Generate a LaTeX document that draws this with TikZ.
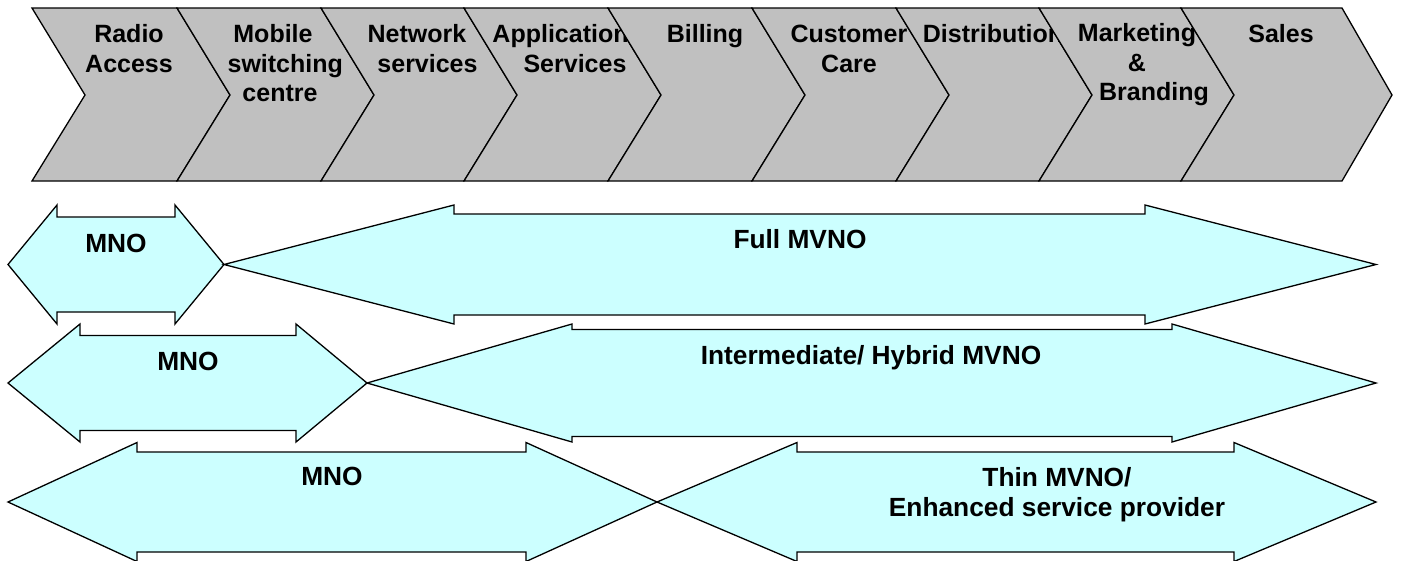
\documentclass[tikz,border=0pt]{standalone}
\usepackage{fontspec}
\setmainfont{Liberation Sans}

\definecolor{stagegrey}{HTML}{C0C0C0}
\definecolor{bandcyan}{HTML}{CCFFFF}

\tikzset{
  stage/.style={fill=stagegrey, draw=black, line width=1.3pt, line join=miter},
  band/.style={fill=bandcyan, draw=black, line width=1.3pt, line join=miter},
  stagetext/.style={font=\fontsize{25}{29.5}\selectfont\bfseries, align=center,
                    inner sep=0pt, anchor=base},
  bandtext/.style={font=\fontsize{26.3}{30}\selectfont\bfseries, align=center,
                   inner sep=0pt, anchor=base},
}

% move one line of a centred label sideways without changing its width
\newcommand\shiftby[2]{\hspace*{#1}#2\hspace*{-#1}}

% One value-chain step: name, left x, right x, tip depth, label x,
% baseline of the label's last line, label
\newcommand\stagechev[7]{%
  \filldraw[stage] (#2,8) -- (#3,8) -- (#3+#4,95) -- (#3,181) -- (#2,181)
                   -- (#2+53,95) -- cycle;
  \node[stagetext] (#1) at (#5,#6) {#7};
}

% Double-headed band: left tip, left head base, right head base, right tip,
% centre y, head half-height, shaft half-height
\newcommand\twoway[7]{%
  \filldraw[band] (#1,#5) -- (#2,#5-#6) -- (#2,#5-#7) -- (#3,#5-#7)
                  -- (#3,#5-#6) -- (#4,#5) -- (#3,#5+#6) -- (#3,#5+#7)
                  -- (#2,#5+#7) -- (#2,#5+#6) -- cycle;
}

\begin{document}
\begin{tikzpicture}[x=1pt, y=-1pt]
  \useasboundingbox (0,0) rectangle (1409,560);
  \fill[white] (0,0) rectangle (1409,560);

  % value chain
  \stagechev{radio}{32}{177}{53}{129}{72.2}{Radio\\Access}
  \stagechev{msc}{177}{321}{53}{280}{101.5}%
    {\shiftby{-7pt}{Mobile}\\\shiftby{10.5pt}{switching}\\centre}
  \stagechev{netsvc}{321}{464}{53}{422}{72.2}%
    {\shiftby{-5pt}{Network}\\\shiftby{5.5pt}{services}}
  \stagechev{appsvc}{464}{608}{53}{568}{72.2}%
    {\shiftby{-7.5pt}{Application}\\\shiftby{7pt}{Services}}
  \stagechev{billing}{608}{752}{53}{705}{42.7}{Billing}
  \stagechev{care}{752}{896}{53}{849}{72.2}{Customer\\Care}
  \stagechev{distrib}{896}{1039}{53}{993}{42.7}{Distribution}
  \stagechev{marketing}{1039}{1181}{53}{1137}{100.5}%
    {Marketing\\\&\\\shiftby{17pt}{Branding}}
  \stagechev{sales}{1181}{1342}{50}{1281}{42.7}{Sales}

  % full MVNO
  \twoway{8}{57}{175}{224}{264.5}{59.5}{47.5}
  \twoway{224}{454}{1145}{1376}{264.5}{59.5}{50.5}
  \node[bandtext] (mnofull) at (116,252) {MNO};
  \node[bandtext] (fullmvno) at (800,248) {Full MVNO};

  % intermediate / hybrid MVNO
  \twoway{8}{80}{296}{367}{383}{59}{47.5}
  \twoway{367}{572}{1172}{1376}{383}{59}{53.5}
  \node[bandtext] (mnohybrid) at (188,370) {MNO};
  \node[bandtext] (hybridmvno) at (871,364) {Intermediate/ Hybrid MVNO};

  % thin MVNO
  \twoway{8}{137}{526}{657}{502}{59.5}{50}
  \twoway{657}{797}{1234}{1376}{502}{59.5}{50}
  \node[bandtext] (mnothin) at (332,485) {MNO};
  \node[bandtext] (thinmvno) at (1057,516) {Thin MVNO/\\Enhanced service provider};
\end{tikzpicture}
\end{document}
